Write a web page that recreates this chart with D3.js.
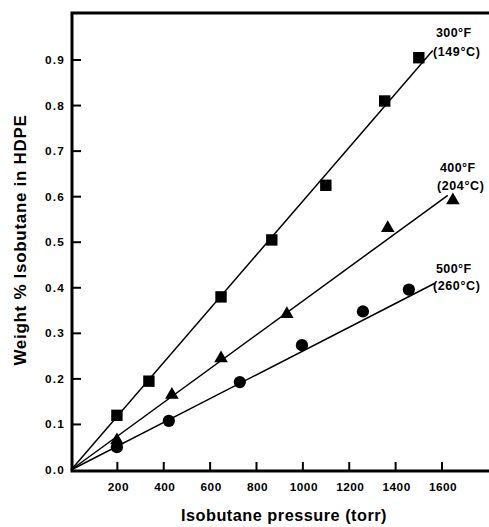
<!DOCTYPE html>
<html>
<head>
<meta charset="utf-8">
<script src="https://cdn.jsdelivr.net/npm/d3@7"></script>
<style>
  html, body { margin: 0; padding: 0; background: #fff; }
  svg { display: block; font-family: "Liberation Sans", Arial, sans-serif; font-weight: bold; }
</style>
</head>
<body>
<div id="chart"></div>
<script>
// pressure (torr) / weight %
const press300 = [198, 336, 647, 866, 1099, 1353, 1500];
const wt300 = [0.12, 0.195, 0.38, 0.505, 0.625, 0.81, 0.905];
const press400 = [198, 435, 647, 931, 1366, 1647];
const wt400 = [0.065, 0.165, 0.245, 0.342, 0.531, 0.592];
const press500 = [198, 422, 728, 996, 1259, 1457];
const wt500 = [0.05, 0.108, 0.193, 0.274, 0.348, 0.396];

// fitted lines, drawn from origin to these end points
const fitEndX = [1560, 1625, 1569];
const fitEndY = [0.921, 0.603, 0.41];

const labelsF = ["300°F", "400°F", "500°F"];
const labelsC = ["(149°C)", "(204°C)", "(260°C)"];
const markers = ["square", "triangle", "circle"];

const xTicks = [200, 400, 600, 800, 1000, 1200, 1400, 1600];
const yTicks = [0, 0.1, 0.2, 0.3, 0.4, 0.5, 0.6, 0.7, 0.8, 0.9];

const width = 489, height = 527;
const frame = { left: 72, top: 13, right: width, bottom: 471 };

const svg = d3.select("#chart").append("svg")
  .attr("width", width)
  .attr("height", height);

const x = d3.scaleLinear().domain([0, 1600]).range([71, 442]);
const y = d3.scaleLinear().domain([0, 0.9]).range([470, 60]);

// frame: left, top, bottom
svg.append("path")
  .attr("d", `M${frame.right},${frame.top}H${frame.left}V${frame.bottom}H${frame.right}`)
  .attr("fill", "none")
  .attr("stroke", "#000")
  .attr("stroke-width", 3);

// y ticks (inward)
const yAxis = svg.append("g");
yTicks.forEach(t => {
  if (t > 0) {
    yAxis.append("line")
      .attr("x1", frame.left).attr("x2", frame.left + 9)
      .attr("y1", y(t)).attr("y2", y(t))
      .attr("stroke", "#000").attr("stroke-width", 2);
  }
  yAxis.append("text")
    .attr("x", 65)
    .attr("y", y(t) + 4)
    .attr("text-anchor", "end")
    .style("font-size", "11.8px")
    .style("letter-spacing", "1.2px")
    .text(d3.format(".1f")(t));
});

// x ticks (inward)
const xAxis = svg.append("g");
xTicks.forEach(t => {
  xAxis.append("line")
    .attr("x1", x(t)).attr("x2", x(t))
    .attr("y1", frame.bottom).attr("y2", frame.bottom - 9)
    .attr("stroke", "#000").attr("stroke-width", 2);
  xAxis.append("text")
    .attr("x", x(t) + 1)
    .attr("y", 491)
    .attr("text-anchor", "middle")
    .style("font-size", "11.8px")
    .style("letter-spacing", "0.5px")
    .text(t);
});

// axis titles
svg.append("text")
  .attr("x", 284)
  .attr("y", 521)
  .attr("text-anchor", "middle")
  .style("font-size", "16.3px")
  .style("letter-spacing", "0.5px")
  .text("Isobutane pressure (torr)");

svg.append("text")
  .attr("transform", "translate(26,240) rotate(-90)")
  .attr("text-anchor", "middle")
  .style("font-size", "17px")
  .style("letter-spacing", "0.7px")
  .text("Weight % Isobutane in HDPE");

// series
const series = [
  { xs: press300, ys: wt300 },
  { xs: press400, ys: wt400 },
  { xs: press500, ys: wt500 }
];

const symbolSize = { square: 130, triangle: 80, circle: 118 };
const symbolType = { square: d3.symbolSquare, triangle: d3.symbolTriangle, circle: d3.symbolCircle };

series.forEach((s, i) => {
  svg.append("line")
    .attr("x1", x(0)).attr("y1", y(0))
    .attr("x2", x(fitEndX[i])).attr("y2", y(fitEndY[i]))
    .attr("stroke", "#000").attr("stroke-width", 1.5);

  const sym = d3.symbol().type(symbolType[markers[i]]).size(symbolSize[markers[i]]);
  s.xs.forEach((px, j) => {
    svg.append("path")
      .attr("d", sym())
      .attr("transform", `translate(${x(px)},${y(s.ys[j])})`)
      .attr("fill", "#000");
  });
});

// curve labels
const labelPos = [[433, 37, 56], [437, 172, 190], [433, 273, 290]];
labelPos.forEach(([lx, y1, y2], i) => {
  svg.append("text").attr("x", lx + 3).attr("y", y1)
    .style("font-size", "12.5px").style("letter-spacing", "0.4px")
    .text(labelsF[i]);
  svg.append("text").attr("x", lx).attr("y", y2)
    .style("font-size", "12.5px").style("letter-spacing", "0.6px")
    .text(labelsC[i]);
});
</script>
</body>
</html>
